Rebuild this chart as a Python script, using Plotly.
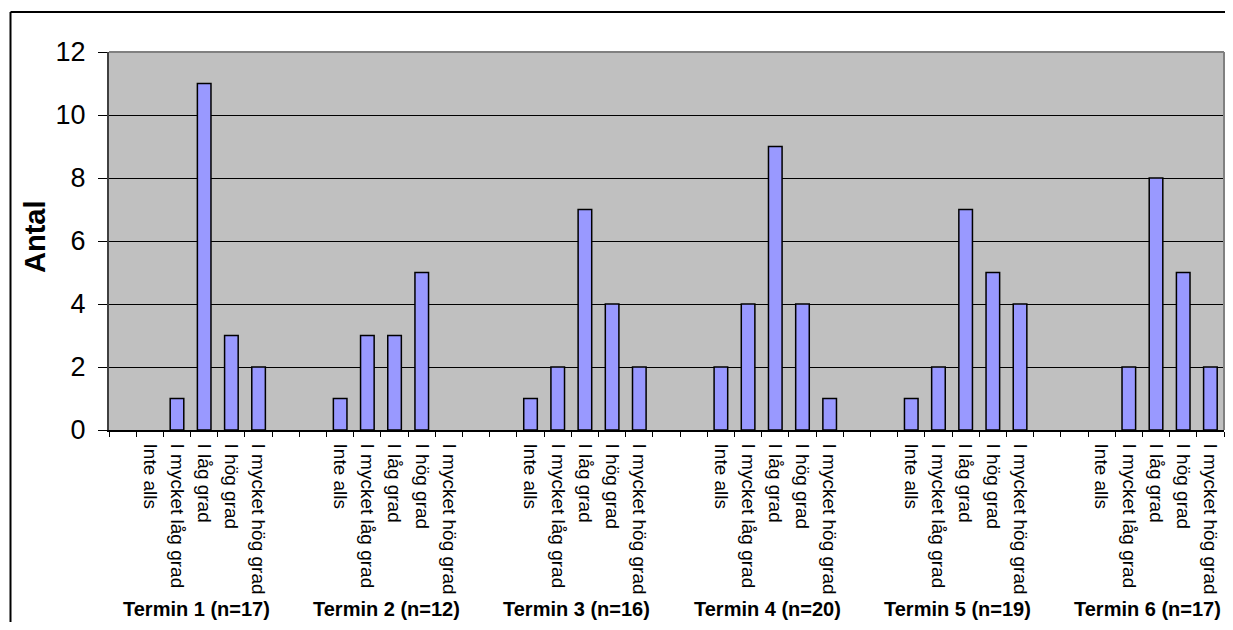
import plotly.graph_objects as go

groups = ["Termin 1 (n=17)", "Termin 2 (n=12)", "Termin 3 (n=16)",
          "Termin 4 (n=20)", "Termin 5 (n=19)", "Termin 6 (n=17)"]
categories = ["Inte alls", "I mycket låg grad", "I låg grad", "I hög grad", "I mycket hög grad"]
t1 = [0, 1, 11, 3, 2]
t2 = [1, 3, 3, 5, 0]
t3 = [1, 2, 7, 4, 2]
t4 = [2, 4, 9, 4, 1]
t5 = [1, 2, 7, 5, 4]
t6 = [0, 2, 8, 5, 2]
values = [t1, t2, t3, t4, t5, t6]
y_ticks = [0, 2, 4, 6, 8, 10, 12]

GAP = 2  # empty category slots between groups
LEAD = 1  # empty slot before first group
step = len(categories) + GAP
n_slots = LEAD + len(groups) * len(categories) + (len(groups) - 1) * GAP

xs, ys, labels = [], [], []
for g, vals in enumerate(values):
    for c, v in enumerate(vals):
        xs.append(LEAD + g * step + c)
        ys.append(v)
        labels.append(categories[c])

FONT = "Liberation Sans, Arial, sans-serif"

fig = go.Figure()
fig.add_trace(go.Bar(
    x=xs, y=ys, width=0.5,
    marker=dict(color="#9999FF",
                line=dict(color="black", width=[1.5 if v else 0 for v in ys])),
    showlegend=False, hoverinfo="x+y",
))

OFF = 8  # page body margin
W, H = 1233 - 2 * OFF, 630 - 2 * OFF
L, R, T = 109 - OFF, 1, 52 - OFF
ph = 378
B = H - T - ph
pw = W - L - R

def px_x(p):
    return (p - OFF - L) / pw

def px_y(p):
    return (T + ph - (p - OFF)) / ph

annotations = []
for g, name in enumerate(groups):
    center = LEAD + g * step + (len(categories) - 1) / 2 - 0.3
    annotations.append(dict(
        x=center, xref="x", y=px_y(609), yref="paper", text="<b>" + name + "</b>",
        showarrow=False, xanchor="center", yanchor="middle",
        font=dict(family=FONT, size=20, color="black"),
    ))
annotations.append(dict(
    x=px_x(35), xref="paper", y=px_y(237), yref="paper", text="<b>Antal</b>",
    textangle=-90, showarrow=False, xanchor="center", yanchor="middle",
    font=dict(family=FONT, size=29, color="black"),
))

shapes = [
    dict(type="line", xref="paper", yref="paper", x0=0, x1=1, y0=1, y1=1,
         line=dict(color="#808080", width=2)),
    dict(type="line", xref="paper", yref="paper", x0=1, x1=1, y0=0, y1=1,
         line=dict(color="#808080", width=2)),
    dict(type="line", xref="paper", yref="paper", x0=px_x(10.5), x1=1.2,
         y0=px_y(12), y1=px_y(12), line=dict(color="black", width=2)),
    dict(type="line", xref="paper", yref="paper", x0=px_x(10.5), x1=px_x(10.5),
         y0=px_y(12), y1=-0.7, line=dict(color="black", width=2)),
]

fig.update_layout(
    width=W, height=H,
    margin=dict(l=L, r=R, t=T, b=B, pad=0),
    paper_bgcolor="white", plot_bgcolor="#C0C0C0",
    font=dict(family=FONT, color="black"),
    annotations=annotations, shapes=shapes,
    xaxis=dict(
        range=[-0.5, n_slots - 0.5], showgrid=False, zeroline=False,
        showline=True, linecolor="black", linewidth=1.5,
        tickmode="array", tickvals=xs, ticktext=labels, tickangle=90,
        ticks="", ticklabelstandoff=8,
        tickfont=dict(family=FONT, size=19, color="black"),
        minor=dict(ticks="outside", tickmode="linear", tick0=0.5, dtick=1,
                   ticklen=5, tickcolor="black", tickwidth=1, showgrid=False),
        fixedrange=True,
    ),
    yaxis=dict(
        range=[0, 12], tickmode="array", tickvals=y_ticks,
        showgrid=True, gridcolor="black", gridwidth=1, zeroline=False,
        showline=True, linecolor="#404040", linewidth=2,
        ticks="outside", ticklen=9, tickcolor="black", tickwidth=1,
        ticklabelstandoff=7,
        tickfont=dict(family=FONT, size=27, color="black"),
        fixedrange=True,
    ),
)

fig.write_html("out.html")
